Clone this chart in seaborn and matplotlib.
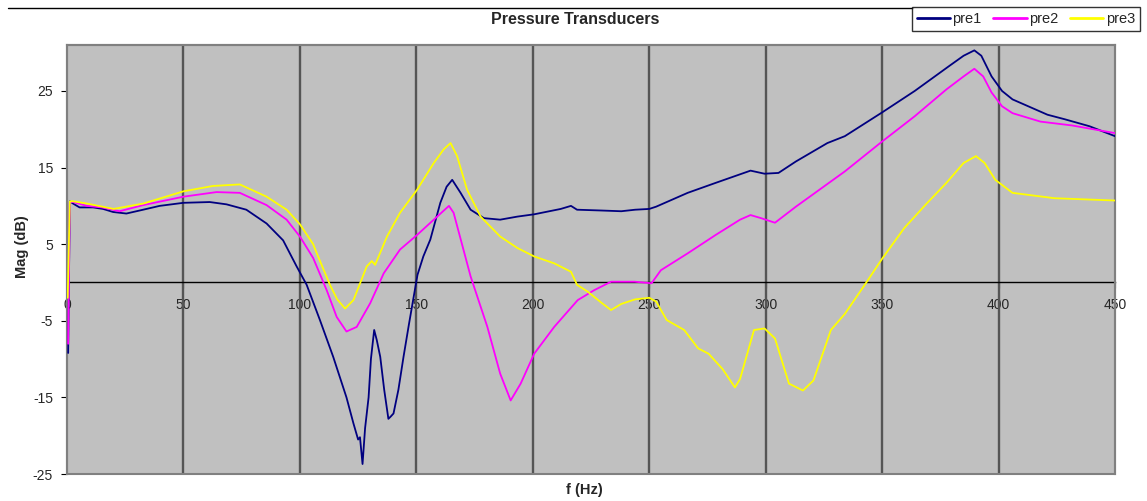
import numpy as np
import pandas as pd
import matplotlib
matplotlib.use("Agg")
import matplotlib.pyplot as plt
from matplotlib.lines import Line2D
from matplotlib.patches import Rectangle
import seaborn as sns

# ---------------- data ----------------
series_names = ["pre1", "pre2", "pre3"]

f_pre1 = [0.5, 1.2, 2.6, 5.4, 11.2, 15.5, 19.8, 25.5, 32.7, 39.8, 50, 61.3, 68.5, 77,
          85.7, 92.8, 98.6, 102.9, 108.6, 114.3, 120, 123, 125, 125.8, 126.9, 128,
          129.5, 130.5, 131.9, 133, 134.5, 136.2, 138, 139, 140.2, 142.3, 144.5,
          146.8, 148.9, 150.5, 153, 156, 160.3, 163, 165.4, 169, 173.3, 179, 186,
          193.4, 200.6, 212, 216.4, 219, 229, 238, 244, 250, 253, 266.5, 278.5,
          293.5, 299.5, 305.5, 313, 326.5, 334, 350, 364, 379, 385, 389.6, 392.6,
          397, 401.5, 406, 421, 428.5, 439, 450]
mag_pre1 = [-9.2, 10.6, 10.3, 9.8, 9.8, 9.6, 9.2, 9.0, 9.5, 10.0, 10.4, 10.5, 10.2, 9.5,
            7.7, 5.5, 2.1, -0.3, -4.9, -9.7, -15.0, -18.4, -20.5, -20.2, -23.7, -19.0,
            -15.0, -10.0, -6.2, -7.5, -9.7, -14.0, -17.8, -17.5, -17.1, -14.0, -9.7,
            -5.5, -1.8, 1.0, 3.4, 5.6, 10.4, 12.5, 13.4, 11.7, 9.5, 8.4, 8.2,
            8.6, 8.9, 9.6, 10.0, 9.5, 9.4, 9.3, 9.5, 9.6, 9.9, 11.7, 13.0,
            14.6, 14.2, 14.3, 15.8, 18.2, 19.1, 22.2, 25.0, 28.3, 29.6, 30.3, 29.6,
            26.9, 25.0, 23.9, 21.9, 21.3, 20.4, 19.1]

f_pre2 = [0.5, 1.2, 2.6, 8.6, 15, 22.6, 32.7, 50, 64.2, 74.2, 85.7, 94.3, 100, 105.7,
          111.5, 115.8, 120, 124.4, 130.2, 136, 143, 150.3, 157.5, 164, 166, 173.3,
          180.5, 186, 190.5, 194.8, 200.6, 209.2, 219.3, 226.4, 233.6, 243.7, 251,
          255, 266.5, 278.5, 289, 293.5, 298, 304, 313, 334, 350, 364, 377.6, 385,
          389.6, 393.4, 397, 401.5, 406, 418, 431.5, 450]
mag_pre2 = [-8.0, 10.5, 10.5, 10.0, 9.8, 9.3, 10.1, 11.2, 11.8, 11.7, 10.1, 8.2, 6.0, 3.2,
            -1.0, -4.5, -6.4, -5.8, -2.7, 1.2, 4.3, 6.2, 8.2, 10.0, 9.1, 0.8,
            -5.8, -11.9, -15.4, -13.2, -9.3, -5.8, -2.3, -1.0, 0.1, 0.1, -0.1,
            1.6, 3.8, 6.2, 8.2, 8.8, 8.4, 7.8, 9.9, 14.5, 18.4, 21.7, 25.2, 26.9,
            27.9, 26.9, 24.8, 23.0, 22.1, 21.0, 20.5, 19.5]

f_pre3 = [0.3, 1.2, 2.6, 8.6, 20, 32.7, 50, 62.7, 74.2, 85.7, 94.3, 100, 105.7, 107,
          112.9, 116, 119.4, 123, 128.7, 130.9, 132.3, 137.4, 143, 150.3, 157.5,
          161.8, 164.7, 167.5, 171.8, 177.6, 186, 193.4, 200.6, 209.2, 216.4, 219,
          223.6, 229.3, 233.6, 238, 244, 250, 253, 257.5, 265, 271, 275.5, 281.5,
          286.8, 289, 295, 299.5, 304, 310, 316, 320.5, 328, 334, 343, 350, 359.5,
          368.5, 377.6, 385, 390.3, 394, 398.6, 406, 424, 450]
mag_pre3 = [-2.0, 10.6, 10.6, 10.3, 9.6, 10.3, 11.9, 12.6, 12.8, 11.2, 9.5, 7.6, 5.0, 4.0,
            -0.3, -2.2, -3.4, -2.3, 2.1, 2.8, 2.3, 6.0, 9.1, 12.1, 15.6,
            17.4, 18.2, 16.5, 12.1, 8.6, 6.0, 4.5, 3.4, 2.5, 1.4, -0.3,
            -1.2, -2.6, -3.6, -2.8, -2.2, -2.0, -2.5, -4.9, -6.2, -8.6, -9.3, -11.3,
            -13.7, -12.6, -6.2, -6.0, -7.3, -13.2, -14.1, -12.8, -6.2, -4.1, -0.1, 3.1, 7.1,
            10.1, 13.0, 15.6, 16.5, 15.6, 13.4, 11.7, 11.0, 10.7]

x_ticks = [0, 50, 100, 150, 200, 250, 300, 350, 400, 450]
y_ticks = [-25, -15, -5, 5, 15, 25]
title_text = "Pressure Transducers"
x_label = "f (Hz)"
y_label = "Mag (dB)"

# ---------------- build long table ----------------
frames = []
for name, fx, my in zip(series_names, [f_pre1, f_pre2, f_pre3], [mag_pre1, mag_pre2, mag_pre3]):
    frames.append(pd.DataFrame({"f": fx, "mag": my, "series": name}))
df = pd.concat(frames, ignore_index=True)

# ---------------- style ----------------
sns.set_style("white")
plt.rcParams["font.family"] = ["Liberation Sans", "DejaVu Sans"]
plt.rcParams["axes.unicode_minus"] = False

W, H = 1147, 501
fig = plt.figure(figsize=(W / 100, H / 100), dpi=100)
ax = fig.add_axes([67 / W, (H - 474) / H, 1048 / W, 429 / H])
ax.set_facecolor("#C0C0C0")

palette = {"pre1": "#000080", "pre2": "#FF00FF", "pre3": "#FFFF00"}
sns.lineplot(data=df, x="f", y="mag", hue="series", palette=palette, estimator=None,
             sort=False, linewidth=1.3, ax=ax, legend=False)
for ln in ax.get_lines():
    ln.set_zorder(4)

ax.set_xlim(0, 450)
ax.set_ylim(-25, 31)

# vertical grid lines
for xv in x_ticks[1:-1]:
    ax.axvline(xv, color="#555555", linewidth=1.7, zorder=1)

# spines: bottom at zero (black), others gray
for s in ["left", "right", "top"]:
    ax.spines[s].set_color("#808080")
    ax.spines[s].set_linewidth(1.5)
ax.spines["bottom"].set_position(("data", 0))
ax.spines["bottom"].set_color("black")
ax.spines["bottom"].set_linewidth(1.0)
ax.spines["bottom"].set_zorder(1.5)
ax.add_patch(Rectangle((0, 0), 1, 1, transform=ax.transAxes, fill=False,
                       edgecolor="#808080", linewidth=1.5, zorder=3, clip_on=False))

ax.set_xticks(x_ticks)
ax.set_yticks(y_ticks)
ax.tick_params(axis="x", direction="out", length=4, pad=7, labelsize=10,
               color="black", bottom=True)
ax.tick_params(axis="y", direction="out", length=4, pad=6, labelsize=10,
               color="black", left=True)
ax.set_xlabel("")
ax.set_ylabel("")

# labels and title
fig.text(584 / W, 1 - 490 / H, x_label, ha="center", va="center",
         fontsize=10.5, fontweight="bold")
fig.text(22 / W, 1 - 247 / H, y_label, ha="center", va="center", rotation=90,
         fontsize=10.5, fontweight="bold")
fig.text(575 / W, 1 - 20 / H, title_text, ha="center", va="center",
         fontsize=11.5, fontweight="bold")

# top border line of chart area
fig.add_artist(Line2D([8 / W, 913 / W], [1 - 8 / H, 1 - 8 / H], color="black", linewidth=1.0))

# legend
handles = [Line2D([0], [0], color=palette[n], linewidth=2) for n in series_names]
leg = fig.legend(handles, series_names, loc="upper right",
                 bbox_to_anchor=(1140 / W, 1 - 7 / H), ncol=3, frameon=True,
                 fancybox=False, edgecolor="black", fontsize=10.5, handlelength=2.3,
                 handletextpad=0.15, columnspacing=0.8, borderpad=0.35,
                 borderaxespad=0)
leg.get_frame().set_linewidth(1.0)

fig.savefig("out.png", dpi=100)
